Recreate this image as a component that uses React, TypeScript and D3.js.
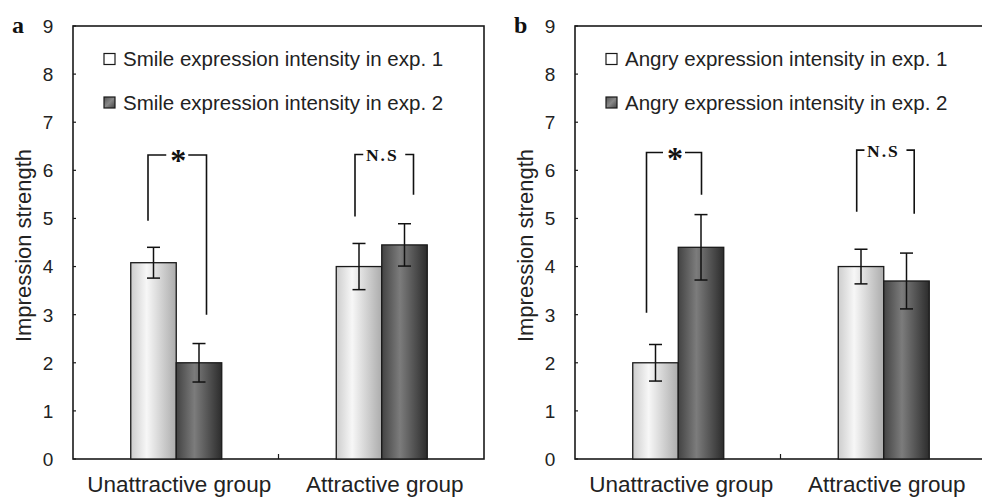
import React from "react";
import * as d3 from "d3";

const categories = ["Unattractive group", "Attractive group"];
const yTicks = [0, 1, 2, 3, 4, 5, 6, 7, 8, 9];

const legendA = ["Smile expression intensity in exp. 1", "Smile expression intensity in exp. 2"];
const meansA1 = [4.08, 4.0];
const meansA2 = [2.0, 4.45];
const errA1 = [0.32, 0.48];
const errA2 = [0.4, 0.44];
const bracketLabelsA = ["*", "N.S"];
const bracketTopA = [6.32, 6.33];
const bracketLeftEndA = [4.95, 5.04];
const bracketRightEndA = [3.0, 5.49];

const legendB = ["Angry expression intensity in exp. 1", "Angry expression intensity in exp. 2"];
const meansB1 = [2.0, 4.0];
const meansB2 = [4.4, 3.7];
const errB1 = [0.38, 0.36];
const errB2 = [0.68, 0.58];
const bracketLabelsB = ["*", "N.S"];
const bracketTopB = [6.37, 6.42];
const bracketLeftEndB = [3.04, 5.14];
const bracketRightEndB = [5.49, 5.1];

// style-only offsets for bracket legs (px) relative to bar centres
const bracketDxA = [[-5.5, 7.5], [-4, 9]];
const bracketDxB = [[-9, 0.5], [-4.3, 7.7]];

const W = 982;
const H = 498;
const plotW = 411;
const plotTop = 26;
const plotBottom = 459;
const barW = 45.5;
const SANS = "'Liberation Sans', Arial, sans-serif";

type PanelProps = {
  left: number;
  letter: string;
  legend: string[];
  m1: number[];
  m2: number[];
  e1: number[];
  e2: number[];
  bLabels: string[];
  bTop: number[];
  bLeftEnd: number[];
  bRightEnd: number[];
  bDx: number[][];
};

function Panel(p: PanelProps) {
  const y = d3.scaleLinear().domain([0, 9]).range([plotBottom, plotTop]);
  const x = d3.scaleBand<string>().domain(categories).range([p.left, p.left + plotW]).padding(0);
  const center = (c: string) => (x(c) as number) + x.bandwidth() / 2 + 0.5;
  const inner = (c: string) =>
    d3.scaleBand<number>().domain([0, 1]).range([center(c) - barW, center(c) + barW]).padding(0);
  const series = [
    { m: p.m1, e: p.e1, fill: "url(#gLight)" },
    { m: p.m2, e: p.e2, fill: "url(#gDark)" },
  ];
  const legendFills = ["#ffffff", "url(#gDarkL)"];
  return (
    <g>
      <rect x={p.left} y={plotTop} width={plotW} height={plotBottom - plotTop} fill="none" stroke="#1a1a1a" strokeWidth={1.6} />
      {yTicks.map((t) => (
        <g key={t}>
          <line x1={p.left} x2={p.left + 3} y1={y(t)} y2={y(t)} stroke="#1a1a1a" strokeWidth={1.2} />
          <text x={p.left - 25} y={y(t)} dy="0.36em" textAnchor="middle" fontFamily={SANS} fontSize={19} fill="#222">
            {t}
          </text>
        </g>
      ))}
      <line x1={p.left + plotW / 2} x2={p.left + plotW / 2} y1={plotBottom} y2={plotBottom - 5} stroke="#1a1a1a" strokeWidth={1.2} />
      <text
        transform={`translate(${p.left - 50},${(plotTop + plotBottom) / 2 + 3}) rotate(-90)`}
        textAnchor="middle"
        dy="0.36em"
        fontFamily={SANS}
        fontSize={22}
        fill="#222"
      >
        Impression strength
      </text>
      <text x={p.left - 61} y={33} fontFamily="'Liberation Serif', 'Times New Roman', serif" fontWeight="bold" fontSize={24} fill="#111">
        {p.letter}
      </text>
      {categories.map((c) => (
        <text key={c} x={center(c) + 3} y={492} textAnchor="middle" fontFamily={SANS} fontSize={22.5} fill="#222">
          {c}
        </text>
      ))}
      {p.legend.map((l, i) => {
        const cy = 59 + i * 43.5;
        return (
          <g key={l}>
            <rect x={p.left + 31} y={cy - 5.5} width={11} height={11} fill={legendFills[i]} stroke="#1a1a1a" strokeWidth={1.2} />
            <text x={p.left + 50} y={cy} dy="0.36em" fontFamily={SANS} fontSize={20.5} fill="#222">
              {l}
            </text>
          </g>
        );
      })}
      {categories.map((c, ci) => {
        const ib = inner(c);
        return (
          <g key={c}>
            {series.map((s, si) => (
              <rect
                key={si}
                x={ib(si) as number}
                y={y(s.m[ci])}
                width={ib.bandwidth()}
                height={y(0) - y(s.m[ci])}
                fill={s.fill}
                stroke="#1a1a1a"
                strokeWidth={1.3}
              />
            ))}
            {series.map((s, si) => {
              const cx = (ib(si) as number) + ib.bandwidth() / 2;
              const hi = y(s.m[ci] + s.e[ci]);
              const lo = y(s.m[ci] - s.e[ci]);
              return (
                <g key={"e" + si} stroke="#111" strokeWidth={1.5}>
                  <line x1={cx} x2={cx} y1={hi} y2={lo} />
                  <line x1={cx - 6.5} x2={cx + 6.5} y1={hi} y2={hi} />
                  <line x1={cx - 6.5} x2={cx + 6.5} y1={lo} y2={lo} />
                </g>
              );
            })}
          </g>
        );
      })}
      {categories.map((c, ci) => {
        const ib = inner(c);
        const xl = (ib(0) as number) + ib.bandwidth() / 2 + p.bDx[ci][0];
        const xr = (ib(1) as number) + ib.bandwidth() / 2 + p.bDx[ci][1];
        const yt = y(p.bTop[ci]);
        const mid = (xl + xr) / 2;
        const star = p.bLabels[ci] === "*";
        const gap = star ? 11 : 21;
        return (
          <g key={"b" + c}>
            <path
              d={`M${xl},${y(p.bLeftEnd[ci])}V${yt}H${mid - gap}M${mid + gap},${yt}H${xr}V${y(p.bRightEnd[ci])}`}
              fill="none"
              stroke="#111"
              strokeWidth={1.6}
            />
            {star ? (
              <text x={mid + 1} y={yt + 16} textAnchor="middle" fontFamily="'Liberation Serif', serif" fontWeight="bold" fontSize={32} fill="#111">
                *
              </text>
            ) : (
              <text x={mid - 2} y={yt + 7} textAnchor="middle" fontFamily="'Liberation Serif', 'Times New Roman', serif" fontWeight="bold" fontSize={17.5} letterSpacing={2} fill="#111">
                {p.bLabels[ci]}
              </text>
            )}
          </g>
        );
      })}
    </g>
  );
}

export default function App() {
  return (
    <svg width={W} height={H} style={{ position: "absolute", left: 0, top: 0, background: "#fff" }}>
      <defs>
        <linearGradient id="gLight" x1="0" x2="1" y1="0" y2="0">
          <stop offset="0%" stopColor="#cdcdcd" />
          <stop offset="35%" stopColor="#f7f7f7" />
          <stop offset="100%" stopColor="#acacac" />
        </linearGradient>
        <linearGradient id="gDark" x1="0" x2="1" y1="0" y2="0">
          <stop offset="0%" stopColor="#434343" />
          <stop offset="40%" stopColor="#7c7c7c" />
          <stop offset="100%" stopColor="#2c2c2c" />
        </linearGradient>
        <linearGradient id="gDarkL" x1="0" x2="1" y1="0" y2="1">
          <stop offset="0%" stopColor="#555" />
          <stop offset="50%" stopColor="#888" />
          <stop offset="100%" stopColor="#444" />
        </linearGradient>
      </defs>
      <rect width={W} height={H} fill="#fff" />
      <Panel
        left={73}
        letter="a"
        legend={legendA}
        m1={meansA1}
        m2={meansA2}
        e1={errA1}
        e2={errA2}
        bLabels={bracketLabelsA}
        bTop={bracketTopA}
        bLeftEnd={bracketLeftEndA}
        bRightEnd={bracketRightEndA}
        bDx={bracketDxA}
      />
      <Panel
        left={575}
        letter="b"
        legend={legendB}
        m1={meansB1}
        m2={meansB2}
        e1={errB1}
        e2={errB2}
        bLabels={bracketLabelsB}
        bTop={bracketTopB}
        bLeftEnd={bracketLeftEndB}
        bRightEnd={bracketRightEndB}
        bDx={bracketDxB}
      />
    </svg>
  );
}
